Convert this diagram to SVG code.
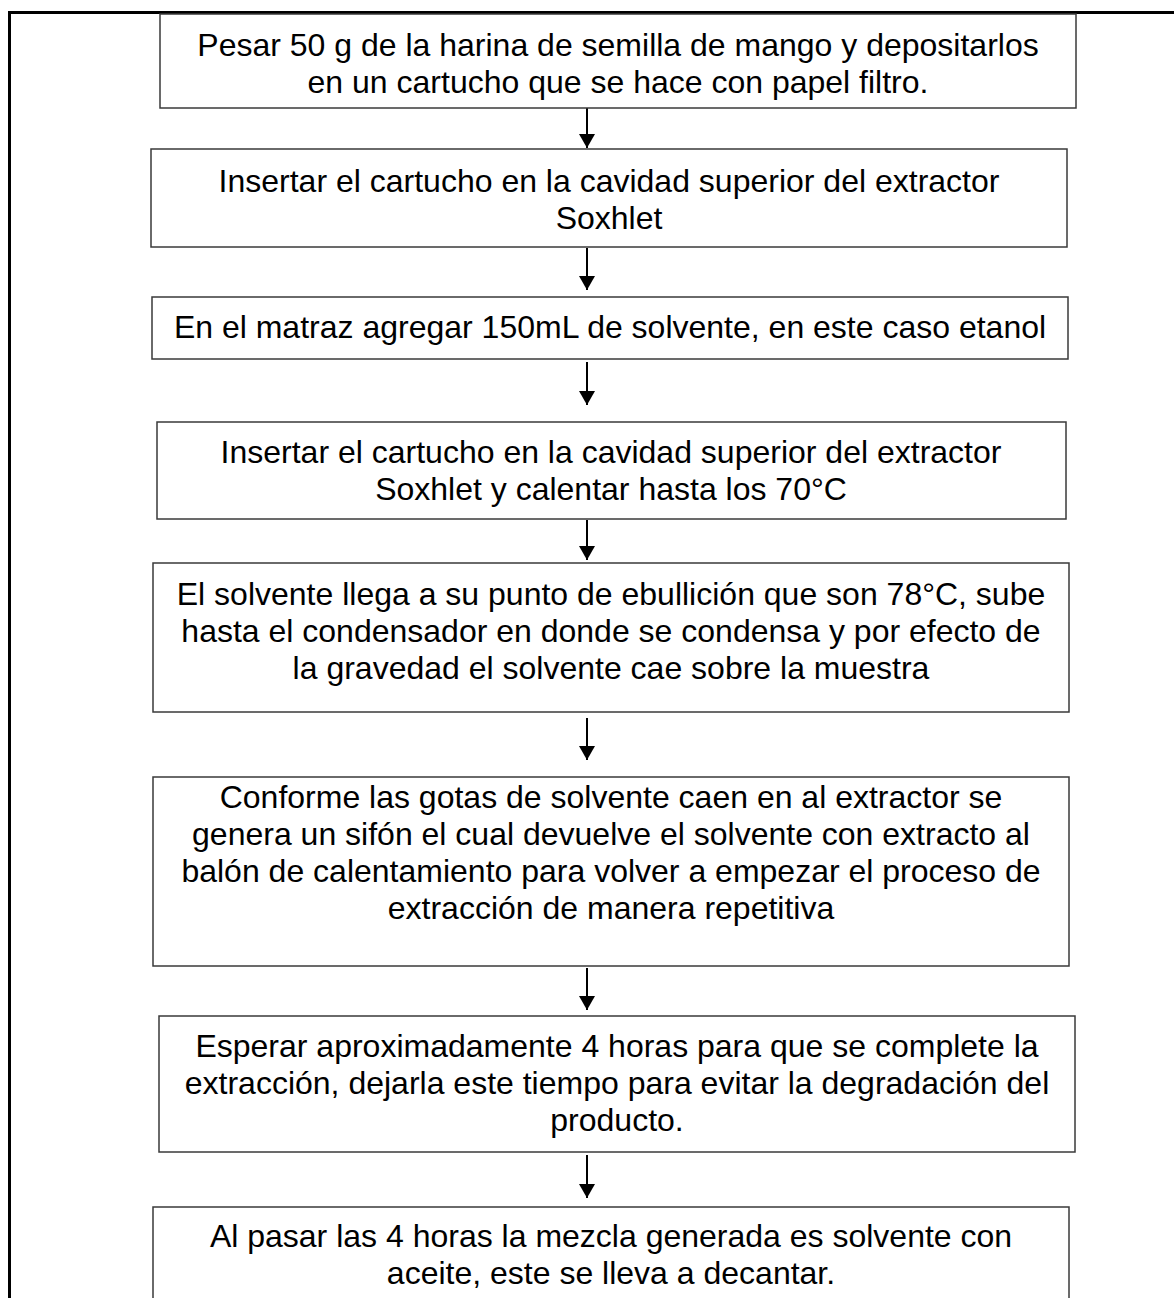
<svg xmlns="http://www.w3.org/2000/svg" width="1174" height="1298" viewBox="0 0 1174 1298">
  <style>
    .box { fill: #ffffff; stroke: #3a3a3a; stroke-width: 1.5; }
    .lbl { font-family: "Liberation Sans", Arial, sans-serif; font-size: 32px; fill: #000000; text-anchor: middle; }
    .conn { stroke: #000000; stroke-width: 2; fill: none; }
    .frame { stroke: #000000; stroke-width: 3; fill: none; }
  </style>
  <defs>
    <marker id="arrow" markerWidth="8" markerHeight="8" refX="7" refY="4" orient="auto" markerUnits="strokeWidth">
      <path d="M0,0 L7,4 L0,8 Z" fill="#000000"/>
    </marker>
  </defs>
  <rect width="1174" height="1298" fill="#ffffff"/>

  <!-- page frame: top and left edges -->
  <path class="frame" d="M9.5,1298 L9.5,12.5 L1174,12.5"/>

  <g id="connectors">
    <line class="conn" x1="587" y1="108" x2="587" y2="148" marker-end="url(#arrow)"/>
    <line class="conn" x1="587" y1="248" x2="587" y2="290" marker-end="url(#arrow)"/>
    <line class="conn" x1="587" y1="362" x2="587" y2="405" marker-end="url(#arrow)"/>
    <line class="conn" x1="587" y1="520" x2="587" y2="560" marker-end="url(#arrow)"/>
    <line class="conn" x1="587" y1="718" x2="587" y2="760" marker-end="url(#arrow)"/>
    <line class="conn" x1="587" y1="968" x2="587" y2="1010" marker-end="url(#arrow)"/>
    <line class="conn" x1="587" y1="1155" x2="587" y2="1198" marker-end="url(#arrow)"/>
  </g>

  <g id="step1">
    <rect class="box" x="160" y="14" width="916" height="94"/>
    <text class="lbl" x="618" y="56">Pesar 50 g de la harina de semilla de mango y depositarlos</text>
    <text class="lbl" x="618" y="93">en un cartucho que se hace con papel filtro.</text>
  </g>

  <g id="step2">
    <rect class="box" x="151" y="149" width="916" height="98"/>
    <text class="lbl" x="609" y="192">Insertar el cartucho en la cavidad superior del extractor</text>
    <text class="lbl" x="609" y="229">Soxhlet</text>
  </g>

  <g id="step3">
    <rect class="box" x="152" y="297" width="916" height="62"/>
    <text class="lbl" x="610" y="338">En el matraz agregar 150mL de solvente, en este caso etanol</text>
  </g>

  <g id="step4">
    <rect class="box" x="157" y="422" width="909" height="97"/>
    <text class="lbl" x="611" y="463">Insertar el cartucho en la cavidad superior del extractor</text>
    <text class="lbl" x="611" y="500">Soxhlet y calentar hasta los 70°C</text>
  </g>

  <g id="step5">
    <rect class="box" x="153" y="563" width="916" height="149"/>
    <text class="lbl" x="611" y="605">El solvente llega a su punto de ebullición que son 78°C, sube</text>
    <text class="lbl" x="611" y="642">hasta el condensador en donde se condensa y por efecto de</text>
    <text class="lbl" x="611" y="679">la gravedad el solvente cae sobre la muestra</text>
  </g>

  <g id="step6">
    <rect class="box" x="153" y="777" width="916" height="189"/>
    <text class="lbl" x="611" y="808">Conforme las gotas de solvente caen en al extractor se</text>
    <text class="lbl" x="611" y="845">genera un sifón el cual devuelve el solvente con extracto al</text>
    <text class="lbl" x="611" y="882">balón de calentamiento para volver a empezar el proceso de</text>
    <text class="lbl" x="611" y="919">extracción de manera repetitiva</text>
  </g>

  <g id="step7">
    <rect class="box" x="159" y="1016" width="916" height="136"/>
    <text class="lbl" x="617" y="1057">Esperar aproximadamente 4 horas para que se complete la</text>
    <text class="lbl" x="617" y="1094">extracción, dejarla este tiempo para evitar la degradación del</text>
    <text class="lbl" x="617" y="1131">producto.</text>
  </g>

  <g id="step8">
    <rect class="box" x="153" y="1207" width="916" height="120"/>
    <text class="lbl" x="611" y="1247">Al pasar las 4 horas la mezcla generada es solvente con</text>
    <text class="lbl" x="611" y="1284">aceite, este se lleva a decantar.</text>
  </g>
</svg>
